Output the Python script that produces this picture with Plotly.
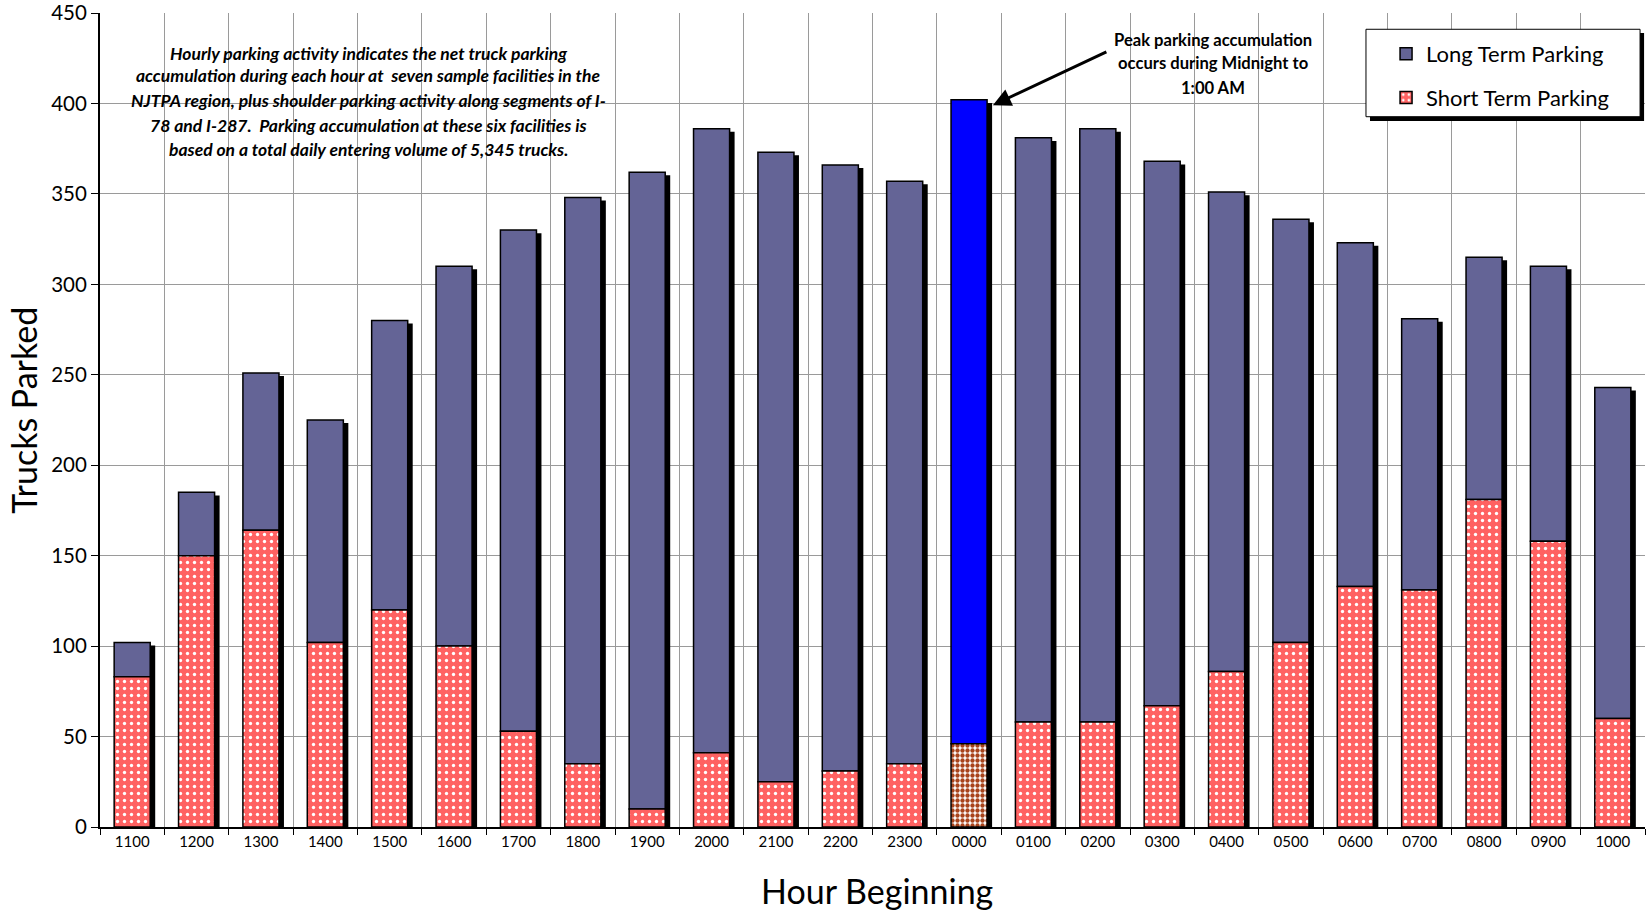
import plotly.graph_objects as go

hours = ["1100", "1200", "1300", "1400", "1500", "1600", "1700", "1800", "1900", "2000",
         "2100", "2200", "2300", "0000", "0100", "0200", "0300", "0400", "0500", "0600",
         "0700", "0800", "0900", "1000"]
total_parked = [102, 185, 251, 225, 280, 310, 330, 348, 362, 386,
                373, 366, 357, 402, 381, 386, 368, 351, 336, 323,
                281, 315, 310, 243]
short_term = [83, 150, 164, 102, 120, 100, 53, 35, 10, 41,
              25, 31, 35, 46, 58, 58, 67, 86, 102, 133,
              131, 181, 158, 60]
long_term = [t - s for t, s in zip(total_parked, short_term)]
peak_hour = "0000"

note_lines = [
    "Hourly parking activity indicates the net truck parking",
    "accumulation during each hour at  seven sample facilities in the",
    "NJTPA region, plus shoulder parking activity along segments of I-",
    "78 and I-287.  Parking accumulation at these six facilities is",
    "based on a total daily entering volume of 5,345 trucks.",
]
peak_lines = ["Peak parking accumulation", "occurs during Midnight to", "1:00 AM"]

FONT = "Lato, Carlito, Calibri, sans-serif"
LONG_C = "#646496"
PEAK_C = "#0000ff"
RED_BG = "#ff6262"

W = 0.56
SH = 5 / 64.375

reg_hours = [h for h in hours if h != peak_hour]
reg_short = [s for h, s in zip(hours, short_term) if h != peak_hour]
pk_short = [s for h, s in zip(hours, short_term) if h == peak_hour]
pk_long = [l for h, l in zip(hours, long_term) if h == peak_hour]
reg_long = [l for h, l in zip(hours, long_term) if h != peak_hour]

fig = go.Figure()
# drop shadows
fig.add_trace(go.Bar(
    x=hours, y=[t - 1.7 for t in total_parked], width=W, offset=-W / 2 + SH,
    marker=dict(color="black", line=dict(width=0)), showlegend=False, hoverinfo="skip"))
# long term (regular)
fig.add_trace(go.Bar(
    x=reg_hours, y=reg_long, base=reg_short, width=W, offset=-W / 2,
    name="Long Term Parking", legendgroup="a",
    marker=dict(color=LONG_C, line=dict(color="black", width=1.5))))
# short term (regular)
fig.add_trace(go.Bar(
    x=reg_hours, y=reg_short, width=W, offset=-W / 2, name="Short Term Parking",
    legendgroup="b",
    marker=dict(color=RED_BG, line=dict(color="black", width=1.5),
                pattern=dict(shape=".", fgcolor="white", bgcolor=RED_BG,
                             size=7, solidity=0.18, fillmode="replace"))))
# peak hour
fig.add_trace(go.Bar(
    x=[peak_hour], y=pk_long, base=pk_short, width=W, offset=-W / 2, showlegend=False,
    marker=dict(color=PEAK_C, line=dict(color="black", width=1.5))))
fig.add_trace(go.Bar(
    x=[peak_hour], y=pk_short, width=W, offset=-W / 2, showlegend=False,
    marker=dict(color="white", line=dict(color="black", width=1.5),
                pattern=dict(shape=".", fgcolor="#a8441c", bgcolor="white",
                             size=5, solidity=0.6, fillmode="replace"))))

annos = []
ys_note = [0.9505, 0.9230, 0.8919, 0.8620, 0.8329]
for i, line in enumerate(note_lines):
    annos.append(dict(text=f"<b><i>{line}</i></b>", xref="paper", yref="paper",
                      x=0.1735, y=ys_note[i], showarrow=False, xanchor="center", yanchor="middle",
                      font=dict(family=FONT, size=17.5, color="black")))
ys_peak = [0.967, 0.9386, 0.9079]
for i, line in enumerate(peak_lines):
    annos.append(dict(text=f"<b>{line}</b>", xref="paper", yref="paper",
                      x=0.7204, y=ys_peak[i], showarrow=False, xanchor="center", yanchor="middle",
                      font=dict(family=FONT, size=16.6, color="black")))
annos.append(dict(text="", x=13.37, y=399, xref="x", yref="y", showarrow=True,
                  axref="pixel", ayref="pixel", ax=115, ay=-54,
                  arrowhead=2, arrowsize=1.2, arrowwidth=3, arrowcolor="black"))
annos.append(dict(text="Trucks Parked", xref="paper", yref="paper", x=-0.0495, y=0.512,
                  textangle=-90, showarrow=False, xanchor="center", yanchor="middle",
                  font=dict(family=FONT, size=34, color="black")))
annos.append(dict(text="Hour Beginning", xref="paper", yref="paper", x=0.503, y=-0.0775,
                  showarrow=False, xanchor="center", yanchor="middle",
                  font=dict(family=FONT, size=34, color="black")))

shapes = [
    dict(type="rect", xref="paper", yref="paper", x0=0.8220, x1=0.9994, y0=0.8673, y1=0.9754,
         fillcolor="black", line=dict(width=0), layer="above"),
    dict(type="rect", xref="paper", yref="paper", x0=0.8194, x1=0.9968, y0=0.8726, y1=0.9800,
         fillcolor="white", line=dict(color="black", width=1), layer="above"),
]

fig.update_layout(
    width=1647, height=911,
    margin=dict(l=100, r=2, t=13, b=84),
    barmode="overlay",
    plot_bgcolor="white", paper_bgcolor="white",
    font=dict(family=FONT, color="black"),
    annotations=annos, shapes=shapes,
    legend=dict(x=0.8324, y=0.9754, xanchor="left", yanchor="top",
                bgcolor="rgba(0,0,0,0)", borderwidth=0,
                font=dict(family=FONT, size=22, color="black"),
                traceorder="grouped", tracegroupgap=12, itemwidth=30),
    xaxis=dict(type="category", categoryorder="array", categoryarray=hours,
               range=[-0.5, 23.5], tickson="boundaries", showgrid=True,
               gridcolor="#9a9a9a", gridwidth=1, ticks="outside", ticklen=6,
               tickcolor="black", showline=True, linecolor="black", linewidth=1.5,
               tickfont=dict(size=15), zeroline=False, automargin=False),
    yaxis=dict(range=[0, 450], dtick=50, showgrid=True, gridcolor="#9a9a9a", gridwidth=1,
               ticks="outside", ticklen=7, tickcolor="black", showline=True,
               linecolor="black", linewidth=2, tickfont=dict(size=20.5), zeroline=False,
               automargin=False, ticklabeloverflow="allow"),
)

fig.write_html("out.html", config={"displayModeBar": False},
               post_script="document.body.style.margin='0';document.body.style.overflow='hidden';")
